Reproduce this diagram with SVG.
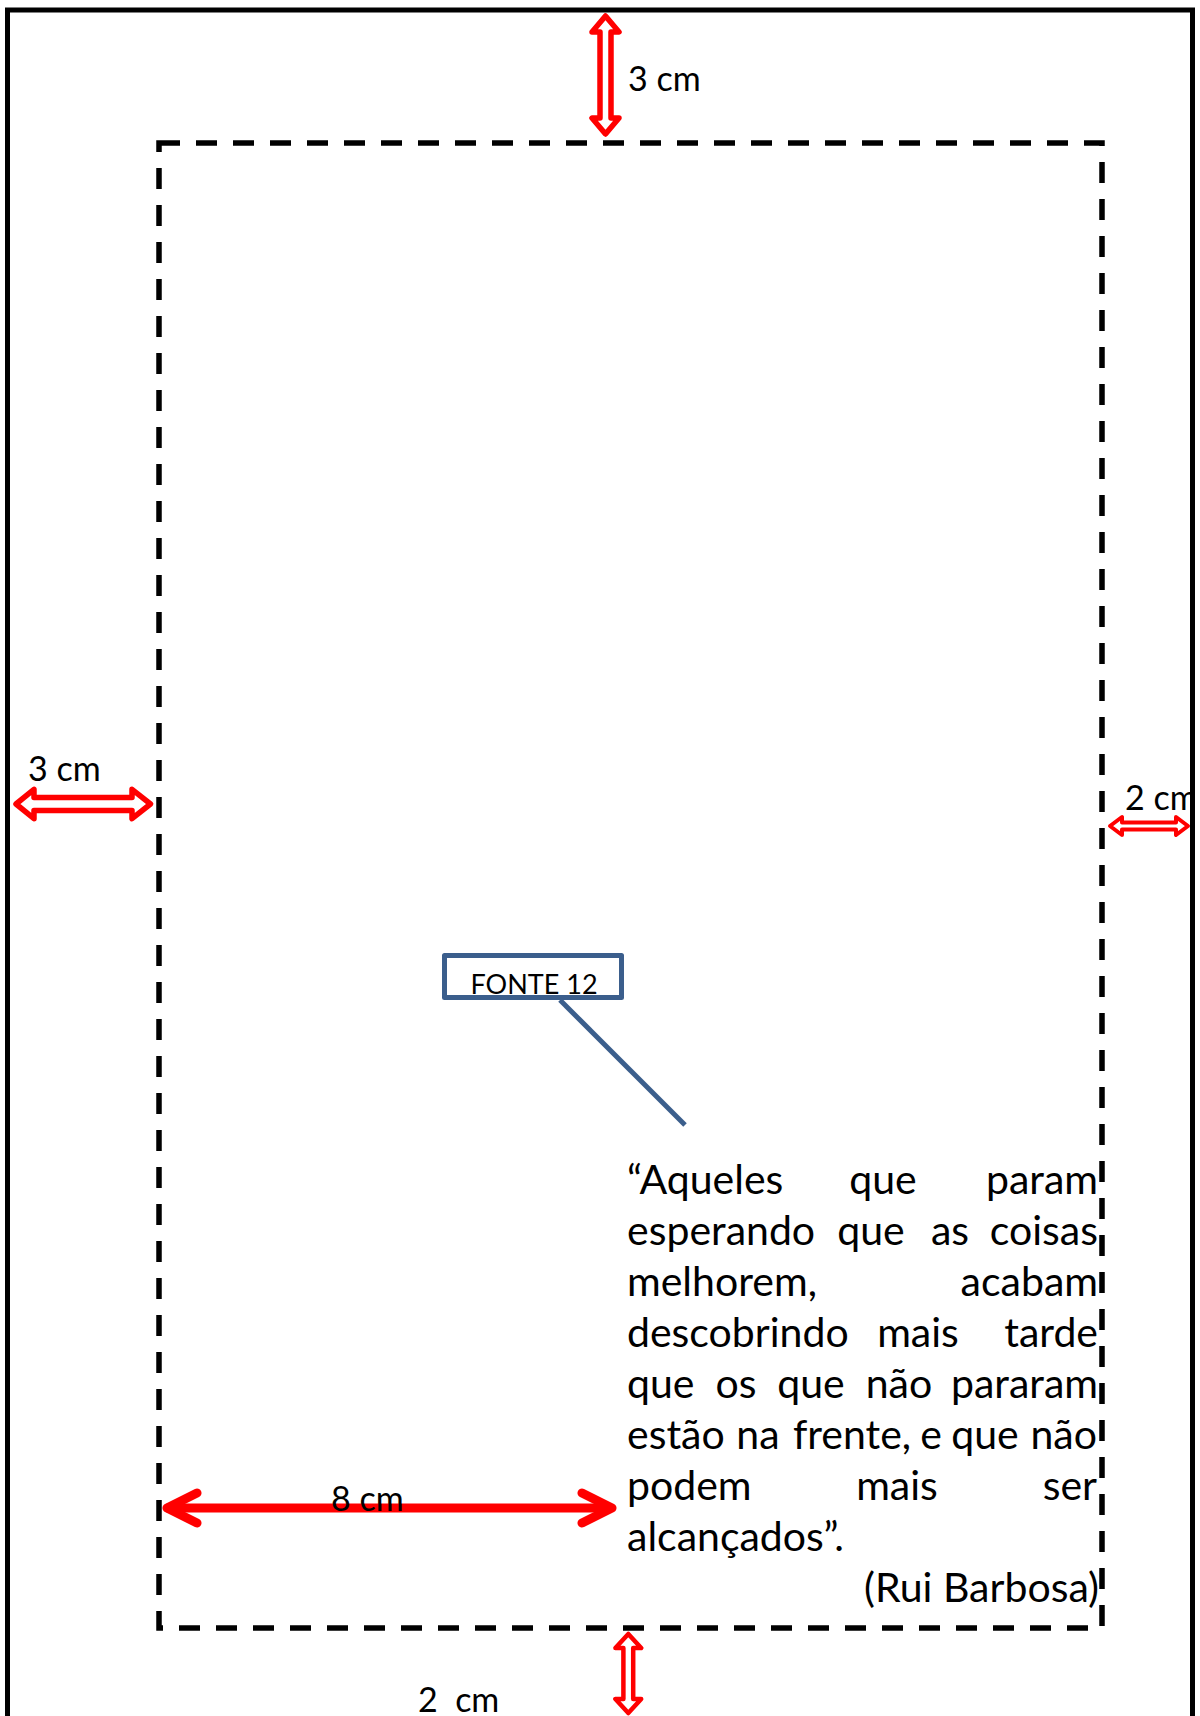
<svg xmlns="http://www.w3.org/2000/svg" width="1200" height="1716" viewBox="0 0 1200 1716">
<style>
  .lbl { font-family: Lato, "Open Sans", sans-serif; font-size: 34px; fill: #000; }
  .q { font-family: Lato, "Open Sans", sans-serif; font-size: 41px; fill: #000; }
  .blk { fill: #fff; stroke: #ff0000; stroke-linejoin: round; }
  .callout { fill: none; stroke: #3b5e8c; stroke-width: 5; stroke-linejoin: round; }
</style>
<defs>
  <clipPath id="pageClip"><rect x="0" y="0" width="1190" height="1716"/></clipPath>
</defs>
<rect x="0" y="0" width="1200" height="1716" fill="#fff"/>

<g id="page">
  <path d="M7.5,1716 V10 H1192.5 V1716" fill="none" stroke="#000" stroke-width="5"/>
</g>

<g id="margin-area">
  <rect x="159" y="143" width="943" height="1485" fill="none" stroke="#000" stroke-width="5.5" stroke-dasharray="21 16"/>
</g>

<g id="connectors">
  <path id="arrow-top" class="blk" stroke-width="5.5" d="M605.5,16 L619,32 L611,32 L611,118 L619,118 L605.5,134 L592,118 L600,118 L600,32 L592,32 Z"/>
  <path id="arrow-left" class="blk" stroke-width="5.5" d="M16,804 L34,789.3 L34,797.6 L132,797.6 L132,789.3 L150.5,804 L132,818.7 L132,810.4 L34,810.4 L34,818.7 Z"/>
  <path id="arrow-right" class="blk" stroke-width="4" d="M1110,826 L1122,817 L1122,822.5 L1176,822.5 L1176,817 L1188,826 L1176,835 L1176,829.5 L1122,829.5 L1122,835 Z"/>
  <path id="arrow-bottom" class="blk" stroke-width="4.5" d="M628.3,1634 L641.2,1648 L633.2,1648 L633.2,1699 L641.2,1699 L628.3,1713 L615.4,1699 L623.4,1699 L623.4,1648 L615.4,1648 Z"/>
  <g id="arrow-8cm" fill="none" stroke="#ff0000" stroke-width="9" stroke-linecap="round" stroke-linejoin="round">
    <line x1="168" y1="1508" x2="610" y2="1508"/>
    <polyline points="197,1493 167,1508 197,1523"/>
    <polyline points="582,1493 612,1508 582,1523"/>
  </g>
  <line id="callout-leader" class="callout" x1="560" y1="1000" x2="685" y2="1125" stroke-width="4"/>
</g>

<g id="label-top"><text class="lbl" x="628" y="91">3 cm</text></g>
<g id="label-left"><text class="lbl" x="28" y="781">3 cm</text></g>
<g id="label-right" clip-path="url(#pageClip)"><text class="lbl" x="1125" y="810">2 cm</text></g>
<g id="label-bottom"><text class="lbl" x="418" y="1712" xml:space="preserve">2  cm</text></g>
<g id="label-8cm"><text class="lbl" x="331" y="1511">8 cm</text></g>

<g id="fonte-12">
  <rect class="callout" x="444.5" y="955.5" width="177" height="42"/>
  <text x="534" y="994" text-anchor="middle" font-family="Lato, 'Open Sans', sans-serif" font-size="27">FONTE 12</text>
</g>

<g id="quote">
  <text class="q" x="627" y="1194">“Aqueles</text>
  <text class="q" x="883" y="1194" text-anchor="middle">que</text>
  <text class="q" x="1098" y="1194" text-anchor="end">param</text>

  <text class="q" x="627" y="1245">esperando</text>
  <text class="q" x="871" y="1245" text-anchor="middle">que</text>
  <text class="q" x="950" y="1245" text-anchor="middle">as</text>
  <text class="q" x="1098" y="1245" text-anchor="end">coisas</text>

  <text class="q" x="627" y="1296">melhorem,</text>
  <text class="q" x="1098" y="1296" text-anchor="end">acabam</text>

  <text class="q" x="627" y="1347">descobrindo</text>
  <text class="q" x="918" y="1347" text-anchor="middle">mais</text>
  <text class="q" x="1098" y="1347" text-anchor="end">tarde</text>

  <text class="q" x="627" y="1398">que</text>
  <text class="q" x="736" y="1398" text-anchor="middle">os</text>
  <text class="q" x="811" y="1398" text-anchor="middle">que</text>
  <text class="q" x="899" y="1398" text-anchor="middle">não</text>
  <text class="q" x="1098" y="1398" text-anchor="end">pararam</text>

  <text class="q" x="627" y="1449">estão</text>
  <text class="q" x="758" y="1449" text-anchor="middle">na</text>
  <text class="q" x="852" y="1449" text-anchor="middle">frente,</text>
  <text class="q" x="931" y="1449" text-anchor="middle">e</text>
  <text class="q" x="985" y="1449" text-anchor="middle">que</text>
  <text class="q" x="1097" y="1449" text-anchor="end">não</text>

  <text class="q" x="627" y="1500">podem</text>
  <text class="q" x="897" y="1500" text-anchor="middle">mais</text>
  <text class="q" x="1097" y="1500" text-anchor="end">ser</text>

  <text class="q" x="627" y="1551">alcançados”.</text>

  <text class="q" x="1099" y="1602" text-anchor="end">(Rui Barbosa)</text>
</g>
</svg>
